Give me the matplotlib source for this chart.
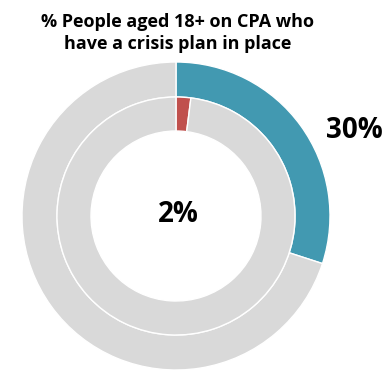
import matplotlib.pyplot as plt

# Data
title = '% People aged 18+ on CPA who\nhave a crisis plan in place'
outer_values = [30, 70]
inner_values = [2, 98]
outer_colors = ['#4299B1', '#D9D9D9']
inner_colors = ['#C0504D', '#D9D9D9']

plt.rcParams['font.family'] = ['Open Sans', 'DejaVu Sans']

fig = plt.figure(figsize=(3.89, 3.74), dpi=100)
ax = fig.add_axes([0, 0, 1, 1])
ax.set_xlim(0, 389)
ax.set_ylim(0, 374)
ax.set_aspect('equal')
ax.axis('off')

cx, cy = 176, 158

ax.pie(outer_values, colors=outer_colors, startangle=90, counterclock=False,
       radius=154, center=(cx, cy),
       wedgeprops=dict(width=35, edgecolor='white', linewidth=1))
ax.pie(inner_values, colors=inner_colors, startangle=90, counterclock=False,
       radius=119, center=(cx, cy),
       wedgeprops=dict(width=34, edgecolor='white', linewidth=1))
ax.set_xlim(0, 389)
ax.set_ylim(0, 374)

ax.text(178, 341, title, ha='center', va='center', fontsize=13,
        fontweight='bold', linespacing=1.35)
ax.text(354, 244, f'{outer_values[0]}%', ha='center', va='center',
        fontsize=20, fontweight='bold')
ax.text(178, 160, f'{inner_values[0]}%', ha='center', va='center',
        fontsize=20, fontweight='bold')

plt.savefig('out.png')
